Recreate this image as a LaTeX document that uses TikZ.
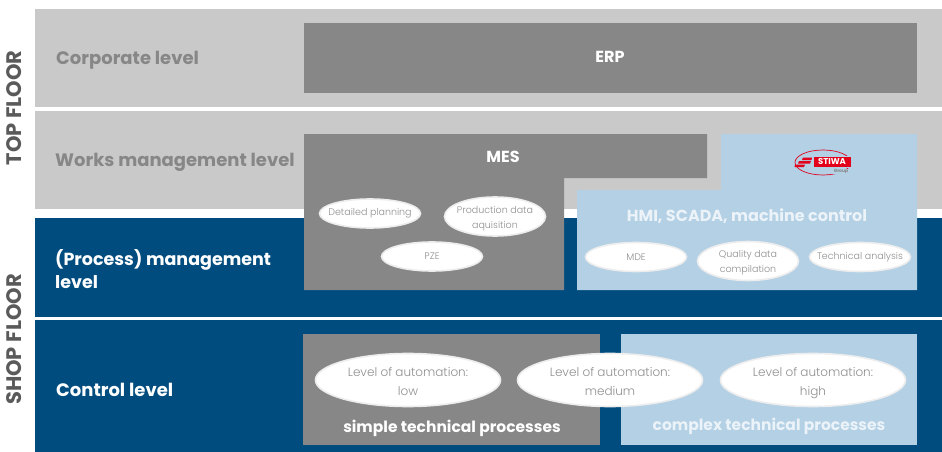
\documentclass[tikz,border=0pt]{standalone}
\usepackage{fontspec}
\setmainfont{Poppins}
\newfontfamily\lightfont{Poppins Light}
\usetikzlibrary{shapes.geometric}
\definecolor{bandgrey}{HTML}{C9C9C9}
\definecolor{bandblue}{HTML}{004C7F}
\definecolor{boxgrey}{HTML}{878787}
\definecolor{boxblue}{HTML}{B3D0E5}
\definecolor{ovalrim}{HTML}{EDEDED}
\definecolor{ovaltext}{HTML}{8F8F8F}
\definecolor{floortext}{HTML}{5A5A5A}
\definecolor{stiwared}{HTML}{E2001A}
\newcommand{\smallpad}{\rule{0pt}{12.5pt}}
\newcommand{\bigpad}{\rule{0pt}{18.3pt}}
\tikzset{
    floorlabel/.style={rotate=90,text=floortext,font=\bfseries\fontsize{21}{21}\selectfont,inner sep=0},
    levellabel/.style={anchor=west,align=left,inner sep=0,font=\bfseries\fontsize{18}{23}\selectfont},
    boxtitle/.style={inner sep=0,font=\bfseries\fontsize{16}{16}\selectfont},
    oval/.style={ellipse,draw=ovalrim,line width=1.6pt,fill=white,text=ovaltext,align=center,
        inner xsep=-30pt,inner ysep=-15pt,minimum width=101pt,minimum height=29pt,
        font=\lightfont\fontsize{9.5}{15}\selectfont},
    bigoval/.style={oval,minimum width=185pt,minimum height=53pt,font=\lightfont\fontsize{12}{19}\selectfont}
}
\begin{document}
\begin{tikzpicture}[x=1pt,y=-1pt]
    \useasboundingbox (0,0) rectangle (942,452);
    % bands
    \fill[bandgrey] (35,9) rectangle (942,107);
    \fill[bandgrey] (35,111) rectangle (942,209);
    \fill[bandblue] (35,218) rectangle (942,317);
    \fill[bandblue] (35,320) rectangle (942,452);
    % boxes
    \fill[boxgrey] (304,23) rectangle (917,93);
    \fill[boxgrey] (304,134) -- (707,134) -- (707,178) -- (564,178) -- (564,290) -- (304,290) -- cycle;
    \fill[boxblue] (721,134) -- (917,134) -- (917,290) -- (577,290) -- (577,190) -- (721,190) -- cycle;
    \fill[boxgrey] (303,334) rectangle (600,445);
    \fill[boxblue] (621,334) rectangle (917,445);
    % side labels
    \node[floorlabel] (topfloor) at (14,108) {TOP FLOOR};
    \node[floorlabel] (shopfloor) at (14,339.5) {SHOP FLOOR};
    \node[levellabel,text=boxgrey] (corporate) at (56,60) {Corporate level};
    \node[levellabel,text=boxgrey] (works) at (55,162) {Works management level};
    \node[levellabel,text=white,font=\bfseries\fontsize{17.5}{23}\selectfont] (process) at (55,269) {(Process) management\\level};
    \node[levellabel,text=white] (control) at (56,390) {Control level};
    % box titles
    \node[boxtitle,text=white] (erp) at (610,57) {ERP};
    \node[boxtitle,text=white] (mes) at (503,157) {MES};
    \node[boxtitle,text=white,opacity=0.75] (hmi) at (747,216) {HMI, SCADA, machine control};
    \node[boxtitle,text=white,font=\bfseries\fontsize{15.5}{16}\selectfont] (simple) at (452,428) {simple technical processes};
    \node[boxtitle,text=white,opacity=0.75,font=\bfseries\fontsize{15.5}{16}\selectfont] (complex) at (769,426) {complex technical processes};
    % ovals
    \node[oval] (planning) at (370,213.5) {Detailed planning};
    \node[oval,minimum height=39pt] (acquisition) at (495,216.5) {\smallpad Production data\\aquisition\strut};
    \node[oval] (pze) at (432,256.5) {PZE};
    \node[oval] (mde) at (636,257) {MDE};
    \node[oval,minimum height=39pt] (quality) at (748,261) {\smallpad Quality data\\compilation\strut};
    \node[oval] (analysis) at (860,257) {Technical analysis};
    \node[bigoval] (low) at (408,380) {\bigpad Level of automation:\\low\strut};
    \node[bigoval] (medium) at (610,380) {\bigpad Level of automation:\\medium\strut};
    \node[bigoval] (high) at (813,380) {\bigpad Level of automation:\\high\strut};
    % logo
    \draw[stiwared,line width=0.7pt] (823,162.5) ellipse (28 and 12.5);
    \node[fill=stiwared,draw=boxblue,line width=0.6pt,text=white,inner sep=0,minimum width=38pt,minimum height=11.5pt,
        font=\bfseries\fontsize{8.5}{8.5}\selectfont] (stiwa) at (832,162) {STIWA};
    \fill[stiwared] (803,157.5) -- (812,157.5) -- (811.5,160) -- (802,160) -- cycle
        (799,161) -- (811,161) -- (810,163.5) -- (798,163.5) -- cycle
        (795,164.5) -- (805,164.5) -- (804,167) -- (794.5,167) -- cycle;
    \fill[boxblue] (830,169) rectangle (852,174);
    \node[text=boxgrey,inner sep=0,font=\bfseries\fontsize{4.5}{4.5}\selectfont] (group) at (841,171) {Group};
\end{tikzpicture}
\end{document}
